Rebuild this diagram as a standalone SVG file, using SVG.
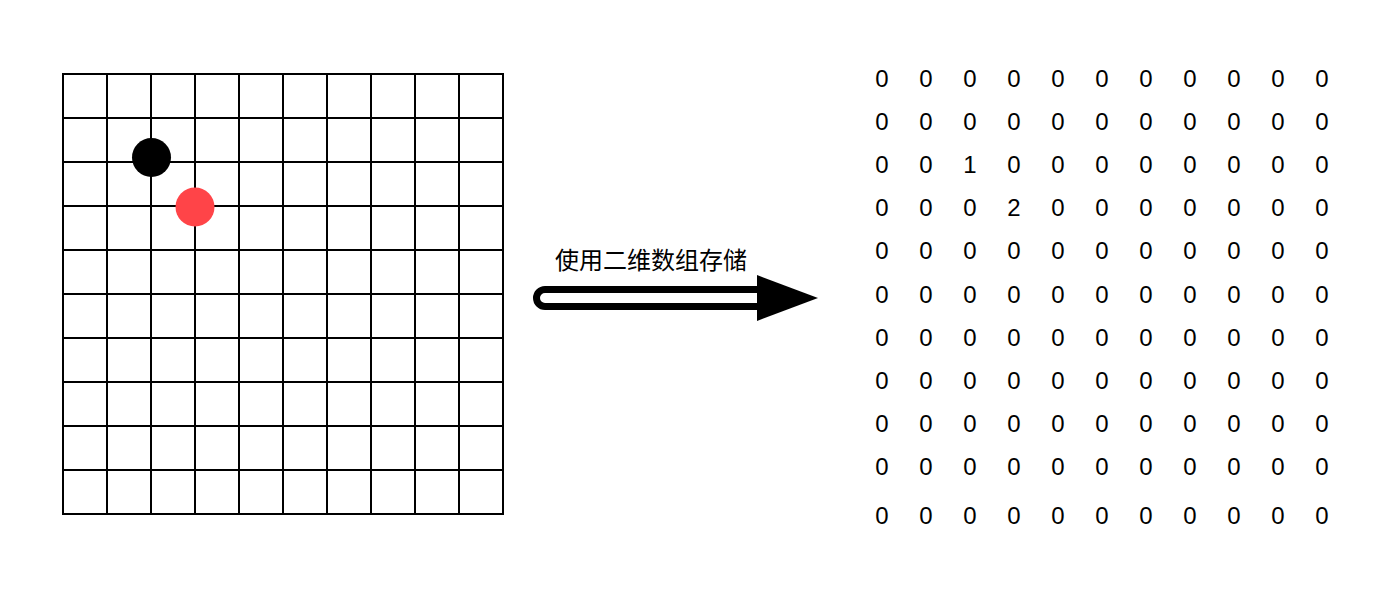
<svg xmlns="http://www.w3.org/2000/svg" width="1394" height="596" viewBox="0 0 1394 596">
<style>
.g{stroke:#000;stroke-width:2;fill:none}
.n{font-family:"Liberation Sans",Arial,sans-serif;font-size:24px;fill:#000;text-anchor:middle}
.t{font-family:"Liberation Sans","Noto Sans CJK SC",sans-serif;font-size:24px;fill:#000;text-anchor:middle}
</style>
<rect width="1394" height="596" fill="#fff"/>
<g id="board">
<rect class="g" x="63" y="74" width="440" height="440"/>
<path class="g" d="M107,74V514M151,74V514M195,74V514M239,74V514M283,74V514M327,74V514M371,74V514M415,74V514M459,74V514M63,118H503M63,162H503M63,206H503M63,250H503M63,294H503M63,338H503M63,382H503M63,426H503M63,470H503"/>
</g>
<g id="black-stone"><circle cx="151.5" cy="157.5" r="19.5" fill="#000"/></g>
<g id="red-stone"><circle cx="195" cy="207" r="19.5" fill="#ff4448"/></g>
<g id="connectors">
<path d="M758,289.5H545A8.5,8.5 0 0 0 545,306.5H758" fill="#fff" stroke="#000" stroke-width="7"/>
<polygon points="757,275 818,298 757,321" fill="#000"/>
</g>
<g id="arrow-label"><text class="t" x="651" y="269">使用二维数组存储</text></g>
<g id="matrix">
<text class="n" y="86.6"><tspan x="882">0</tspan><tspan x="926">0</tspan><tspan x="970">0</tspan><tspan x="1014">0</tspan><tspan x="1058">0</tspan><tspan x="1102">0</tspan><tspan x="1146">0</tspan><tspan x="1190">0</tspan><tspan x="1234">0</tspan><tspan x="1278">0</tspan><tspan x="1322">0</tspan></text>
<text class="n" y="129.8"><tspan x="882">0</tspan><tspan x="926">0</tspan><tspan x="970">0</tspan><tspan x="1014">0</tspan><tspan x="1058">0</tspan><tspan x="1102">0</tspan><tspan x="1146">0</tspan><tspan x="1190">0</tspan><tspan x="1234">0</tspan><tspan x="1278">0</tspan><tspan x="1322">0</tspan></text>
<text class="n" y="173"><tspan x="882">0</tspan><tspan x="926">0</tspan><tspan x="970">1</tspan><tspan x="1014">0</tspan><tspan x="1058">0</tspan><tspan x="1102">0</tspan><tspan x="1146">0</tspan><tspan x="1190">0</tspan><tspan x="1234">0</tspan><tspan x="1278">0</tspan><tspan x="1322">0</tspan></text>
<text class="n" y="216.2"><tspan x="882">0</tspan><tspan x="926">0</tspan><tspan x="970">0</tspan><tspan x="1014">2</tspan><tspan x="1058">0</tspan><tspan x="1102">0</tspan><tspan x="1146">0</tspan><tspan x="1190">0</tspan><tspan x="1234">0</tspan><tspan x="1278">0</tspan><tspan x="1322">0</tspan></text>
<text class="n" y="259.4"><tspan x="882">0</tspan><tspan x="926">0</tspan><tspan x="970">0</tspan><tspan x="1014">0</tspan><tspan x="1058">0</tspan><tspan x="1102">0</tspan><tspan x="1146">0</tspan><tspan x="1190">0</tspan><tspan x="1234">0</tspan><tspan x="1278">0</tspan><tspan x="1322">0</tspan></text>
<text class="n" y="302.6"><tspan x="882">0</tspan><tspan x="926">0</tspan><tspan x="970">0</tspan><tspan x="1014">0</tspan><tspan x="1058">0</tspan><tspan x="1102">0</tspan><tspan x="1146">0</tspan><tspan x="1190">0</tspan><tspan x="1234">0</tspan><tspan x="1278">0</tspan><tspan x="1322">0</tspan></text>
<text class="n" y="345.8"><tspan x="882">0</tspan><tspan x="926">0</tspan><tspan x="970">0</tspan><tspan x="1014">0</tspan><tspan x="1058">0</tspan><tspan x="1102">0</tspan><tspan x="1146">0</tspan><tspan x="1190">0</tspan><tspan x="1234">0</tspan><tspan x="1278">0</tspan><tspan x="1322">0</tspan></text>
<text class="n" y="389"><tspan x="882">0</tspan><tspan x="926">0</tspan><tspan x="970">0</tspan><tspan x="1014">0</tspan><tspan x="1058">0</tspan><tspan x="1102">0</tspan><tspan x="1146">0</tspan><tspan x="1190">0</tspan><tspan x="1234">0</tspan><tspan x="1278">0</tspan><tspan x="1322">0</tspan></text>
<text class="n" y="432.2"><tspan x="882">0</tspan><tspan x="926">0</tspan><tspan x="970">0</tspan><tspan x="1014">0</tspan><tspan x="1058">0</tspan><tspan x="1102">0</tspan><tspan x="1146">0</tspan><tspan x="1190">0</tspan><tspan x="1234">0</tspan><tspan x="1278">0</tspan><tspan x="1322">0</tspan></text>
<text class="n" y="475.4"><tspan x="882">0</tspan><tspan x="926">0</tspan><tspan x="970">0</tspan><tspan x="1014">0</tspan><tspan x="1058">0</tspan><tspan x="1102">0</tspan><tspan x="1146">0</tspan><tspan x="1190">0</tspan><tspan x="1234">0</tspan><tspan x="1278">0</tspan><tspan x="1322">0</tspan></text>
<text class="n" y="524"><tspan x="882">0</tspan><tspan x="926">0</tspan><tspan x="970">0</tspan><tspan x="1014">0</tspan><tspan x="1058">0</tspan><tspan x="1102">0</tspan><tspan x="1146">0</tspan><tspan x="1190">0</tspan><tspan x="1234">0</tspan><tspan x="1278">0</tspan><tspan x="1322">0</tspan></text>
</g>
</svg>
